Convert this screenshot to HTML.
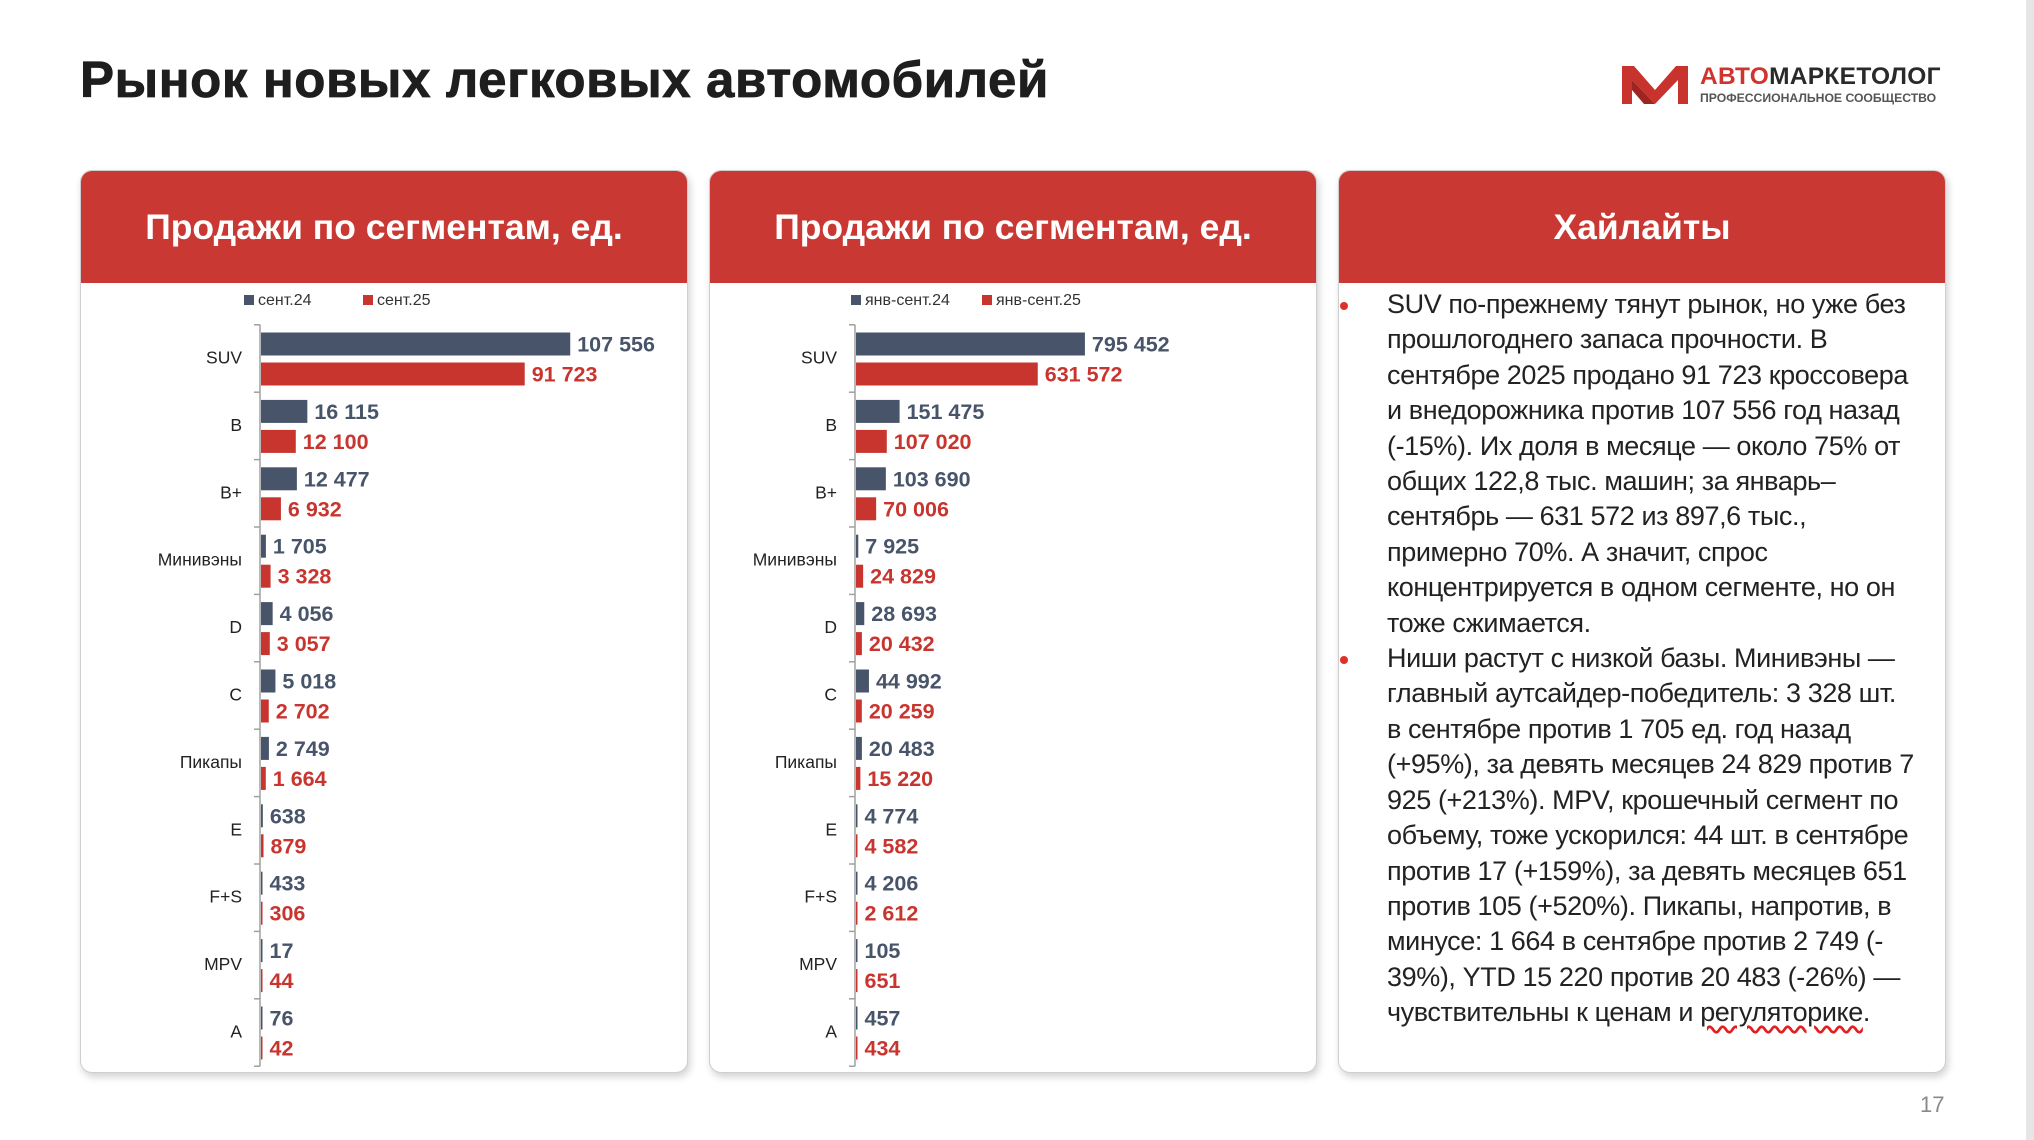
<!DOCTYPE html>
<html><head><meta charset="utf-8">
<style>
*{margin:0;padding:0;box-sizing:border-box}
body{width:2034px;height:1140px;background:#fff;position:relative;overflow:hidden;font-family:"Liberation Sans","Noto Sans CJK SC",sans-serif;color:#222}
#title{position:absolute;left:80px;top:50px;font-size:51px;font-weight:bold;color:#1e1e1e;letter-spacing:0.6px;white-space:nowrap;-webkit-text-stroke:0.8px #1e1e1e}
.panel{position:absolute;top:170px;height:903px;width:608px;background:#fff;border:1px solid #cfcfcf;border-radius:12px;box-shadow:2px 4px 8px rgba(0,0,0,0.18);overflow:hidden}
.phead{height:112px;background:#c93832;color:#fff;font-weight:bold;font-size:35.5px;text-align:center;line-height:112px;white-space:nowrap}
#strip{position:absolute;left:2026px;top:0;width:8px;height:1140px;background:#e6e6e6}
#pnum{position:absolute;left:1920px;top:1092px;font-size:22px;color:#8a8a8a}
#hl{position:absolute;left:1387px;top:287px;font-size:27px;line-height:35.4px;color:#222;white-space:nowrap;letter-spacing:-0.4px}
.bul{position:absolute;width:8px;height:8px;border-radius:50%;background:#e0302a}
svg text{font-family:"Liberation Sans",sans-serif}
</style></head><body>
<div id="title">Рынок новых легковых автомобилей</div>
<div id="logo" style="position:absolute;left:1622px;top:62px;width:330px;height:50px">
 <svg width="66" height="44" viewBox="0 0 66 44">
  <path d="M0 4 L12 4 L33 28 L54 4 L66 4 L66 42 L56 42 L56 18 L33 42 L10 18 L10 42 L0 42 Z" fill="#c8332d"/>
  <path d="M10 18 L33 42 L22 42 L10 28 Z" fill="#9e2420"/>
 </svg>
 <div style="position:absolute;left:78px;top:1px;font-size:24.5px;font-weight:bold;white-space:nowrap;letter-spacing:0.3px"><span style="color:#d0342e">АВТО</span><span style="color:#2a2a2a">МАРКЕТОЛОГ</span></div>
 <div style="position:absolute;left:78px;top:29px;font-size:12.2px;font-weight:bold;color:#555;white-space:nowrap">ПРОФЕССИОНАЛЬНОЕ СООБЩЕСТВО</div>
</div>
<div class="panel" style="left:80px"><div class="phead">Продажи по сегментам, ед.</div></div>
<div class="panel" style="left:709px"><div class="phead">Продажи по сегментам, ед.</div></div>
<div class="panel" style="left:1338px"><div class="phead">Хайлайты</div></div>
<div class="bul" style="left:1340px;top:302px"></div>
<div class="bul" style="left:1340px;top:656px"></div>
<div id="hl">SUV по-прежнему тянут рынок, но уже без<br>прошлогоднего запаса прочности. В<br>сентябре 2025 продано 91 723 кроссовера<br>и внедорожника против 107 556 год назад<br>(-15%). Их доля в месяце — около 75% от<br>общих 122,8 тыс. машин; за январь–<br>сентябрь — 631 572 из 897,6 тыс.,<br>примерно 70%. А значит, спрос<br>концентрируется в одном сегменте, но он<br>тоже сжимается.<br>Ниши растут с низкой базы. Минивэны —<br>главный аутсайдер-победитель: 3 328 шт.<br>в сентябре против 1 705 ед. год назад<br>(+95%), за девять месяцев 24 829 против 7<br>925 (+213%). MPV, крошечный сегмент по<br>объему, тоже ускорился: 44 шт. в сентябре<br>против 17 (+159%), за девять месяцев 651<br>против 105 (+520%). Пикапы, напротив, в<br>минусе: 1 664 в сентябре против 2 749 (-<br>39%), YTD 15 220 против 20 483 (-26%) —<br>чувствительны к ценам и <span style="text-decoration:underline wavy #e02020;text-underline-offset:4px">регуляторике</span>.</div>
<div id="strip"></div>
<div id="pnum">17</div>
<svg id="charts" width="2034" height="1140" style="position:absolute;left:0;top:0"></svg>
<script>
const categories = ["SUV","B","B+","Минивэны","D","C","Пикапы","E","F+S","MPV","A"];
const sep24 = [107556,16115,12477,1705,4056,5018,2749,638,433,17,76];
const sep25 = [91723,12100,6932,3328,3057,2702,1664,879,306,44,42];
const ytd24 = [795452,151475,103690,7925,28693,44992,20483,4774,4206,105,457];
const ytd25 = [631572,107020,70006,24829,20432,20259,15220,4582,2612,651,434];
const legendMonth = ["сент.24","сент.25"];
const legendYtd = ["янв-сент.24","янв-сент.25"];
const BLUE="#475469", RED="#c8352f";
const NS="http://www.w3.org/2000/svg";
const svg=document.getElementById('charts');
function mk(tag,attrs,parent){const e=document.createElementNS(NS,tag);for(const k in attrs)e.setAttribute(k,attrs[k]);(parent||svg).appendChild(e);return e;}
function fmt(v){return String(v).replace(/\B(?=(\d{3})+(?!\d))/g,' ');}
function drawChart(opt){
  const g=mk('g',{});
  
  
  const x=v=>opt.axisX+v/opt.domainMax*opt.rangePx;
  const step=67.4, c0=358.5;
  const y=i=>c0+i*step;
  const ax=mk('line',{x1:opt.axisX,x2:opt.axisX,y1:y(0)-step/2,y2:y(categories.length-1)+step/2,stroke:'#a0a0a0','stroke-width':1.5},g);
  
  
  for(let i=0;i<=categories.length;i++){
    const ty=y(i)-step/2;
    const t=mk('line',{x1:opt.axisX-6,x2:opt.axisX,y1:ty,y2:ty,stroke:'#a0a0a0','stroke-width':1.5},g);
    
    
  }
  [[BLUE,opt.legend[0],opt.lx[0]],[RED,opt.legend[1],opt.lx[1]]].forEach((L,k)=>{
    const s=mk('rect',{x:L[2],y:295,width:10,height:10,fill:L[0]},g);
    
    
    const t=mk('text',{x:L[2]+14,y:305,'font-size':16,fill:'#333'},g);
    t.textContent=L[1];
    
    
  });
  categories.forEach((c,i)=>{
    const cl=mk('text',{x:opt.axisX-18,y:y(i)+5,'font-size':17.5,'text-anchor':'end',fill:'#222'},g);
    cl.textContent=c;
    
    
    [[opt.a[i],BLUE,-26],[opt.b[i],RED,4]].forEach((s,k)=>{
      const w=Math.max(x(s[0])-opt.axisX,1.5);
      const r=mk('rect',{x:opt.axisX+1,y:y(i)+s[2],width:w,height:23,fill:s[1]},g);
      
      
      const vl=mk('text',{x:opt.axisX+1+w+7,y:y(i)+s[2]+19,'font-size':21.5,'font-weight':'bold',fill:s[1]},g);
      vl.textContent=fmt(s[0]);
      
      
    });
  });
}
drawChart({name:'chart-month',axisX:260,domainMax:120000,rangePx:345,a:sep24,b:sep25,legend:legendMonth,lx:[244,363]});
drawChart({name:'chart-ytd',axisX:855,domainMax:900000,rangePx:259,a:ytd24,b:ytd25,legend:legendYtd,lx:[851,982]});
</script>
</body></html>
